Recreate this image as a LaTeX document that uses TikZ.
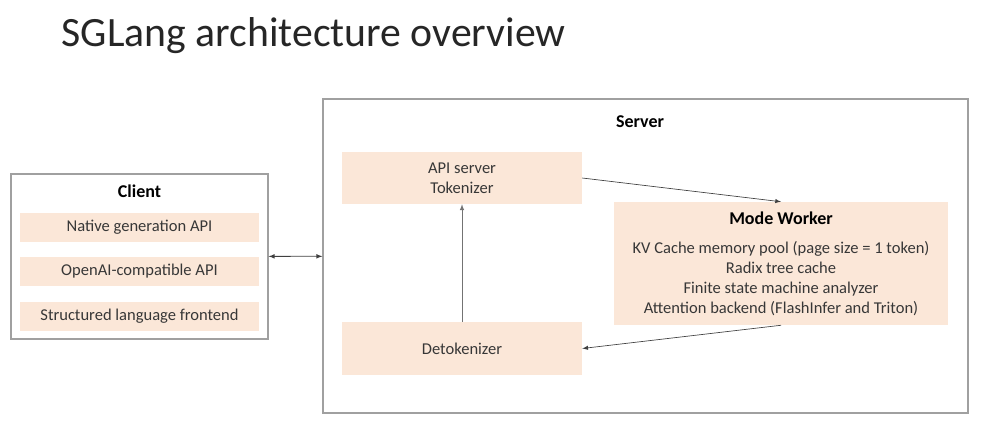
\documentclass[tikz,border=0pt]{standalone}
\usepackage{fontspec}
\setmainfont{Carlito}
\usepackage{tikz}
\usetikzlibrary{positioning,arrows,shapes}
\definecolor{peach}{RGB}{251,231,216}
\definecolor{framegray}{RGB}{160,160,160}
\definecolor{txt}{RGB}{55,55,55}
\tikzstyle{frame}=[draw=framegray, fill=white, line width=0.8pt, inner sep=0pt]
\tikzstyle{blk}=[fill=peach, text=txt, inner sep=0pt, font=\fontsize{12.4}{15}\selectfont, align=center]
\tikzstyle{heading}=[text=black, font=\fontsize{13.5}{15}\selectfont\bfseries]

\begin{document}
\begin{tikzpicture}[x=0.75pt,y=-0.75pt,>=latex]
\useasboundingbox (0,0) rectangle (986,446);

\node[anchor=base west, font=\fontsize{31.3}{36}\selectfont, text=black!85] (title) at (57,46) {SGLang architecture overview};

% client side
\node[frame, minimum width=192.75pt, minimum height=123.75pt] (client) at (139.5,256.5) {};
\node[heading] (clienttitle) at (139.5,191) {Client};
\node[blk, minimum width=179.25pt, minimum height=21.75pt] (native) at (139.5,227.5) {Native generation API};
\node[blk, minimum width=179.25pt, minimum height=21.75pt] (openai) at (139.5,271.5) {OpenAI-compatible API};
\node[blk, minimum width=179.25pt, minimum height=21.75pt] (frontend) at (139.5,316) {Structured language frontend};

% server side
\node[frame, minimum width=483.75pt, minimum height=235.5pt] (server) at (645.5,256) {};
\node[heading] (servertitle) at (640,122) {Server};
\node[blk, minimum width=180pt, minimum height=39pt] (api) at (462,178) {API server\\Tokenizer};
\node[blk, minimum width=180pt, minimum height=39.75pt] (detok) at (462,348.5) {Detokenizer};
\node[blk, minimum width=250.5pt, minimum height=92.25pt] (worker) at (781,263.5) {{\fontsize{13.5}{15}\selectfont\bfseries\color{black}Mode Worker}\\[7pt]
KV Cache memory pool (page size = 1 token)\\Radix tree cache\\Finite state machine analyzer\\Attention backend (FlashInfer and Triton)};

\draw[<->, black!75, line width=0.6pt] (client) -- (server);
\draw[->, black!75, line width=0.5pt] (api.east) -- (worker.north);
\draw[->, black!75, line width=0.5pt] (worker.south) -- (detok.east);
\draw[->, black!55, line width=0.5pt] (detok) -- (api);
\end{tikzpicture}
\end{document}
